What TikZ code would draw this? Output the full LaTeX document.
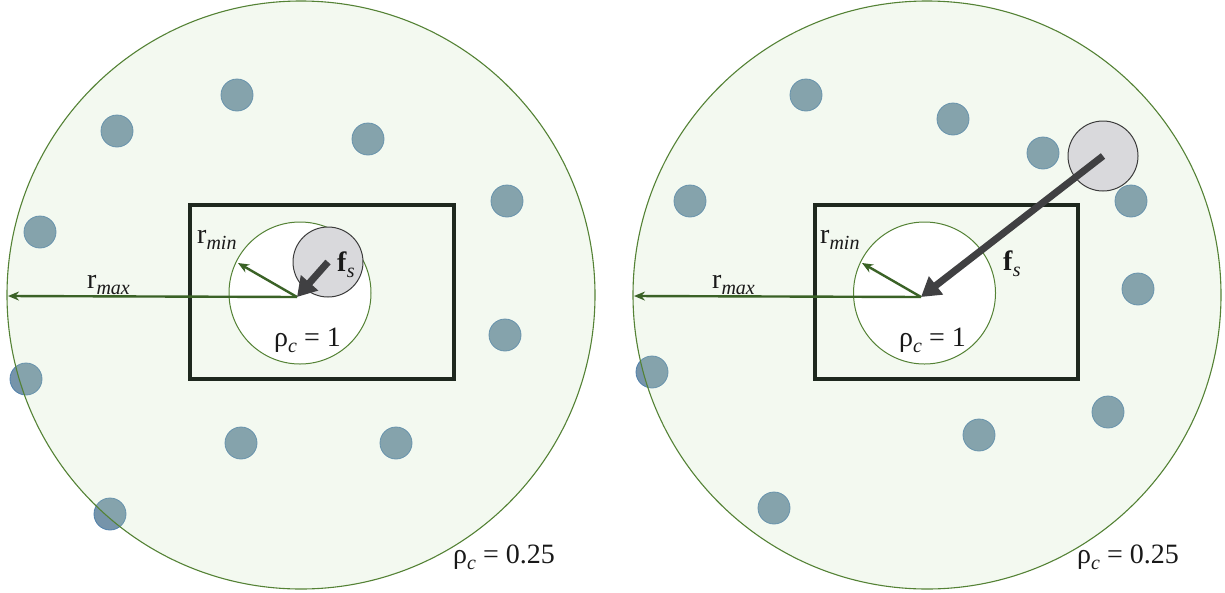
\documentclass[tikz,border=0pt]{standalone}
\usepackage{fontspec}
\setmainfont{Liberation Serif}
\usetikzlibrary{arrows.meta}
\definecolor{bgreen}{RGB}{84,130,53}
\definecolor{lgreen}{RGB}{197,224,180}
\definecolor{dotfill}{RGB}{118,148,170}
\definecolor{dotdraw}{RGB}{80,128,170}
\definecolor{darkarr}{RGB}{64,64,66}
\definecolor{grayfill}{RGB}{217,217,220}
\definecolor{grayline}{RGB}{60,60,60}
\definecolor{rectcol}{RGB}{30,40,30}
\definecolor{arrgreen}{RGB}{58,98,38}
\definecolor{txt}{RGB}{25,25,25}
\tikzset{
  bluedot/.style={circle, fill=dotfill, draw=dotdraw, line width=0.8pt, minimum size=32pt, inner sep=0pt},
  graycirc/.style={circle, fill=grayfill, draw=grayline, line width=1pt, minimum size=70pt, inner sep=0pt},
  bigfill/.style={fill=lgreen, fill opacity=0.2},
  bigline/.style={draw=bgreen, line width=1.1pt},
  innercirc/.style={fill=white, draw=bgreen, line width=1pt},
  framebox/.style={draw=rectcol, line width=3.5pt},
  greenarr/.style={draw=arrgreen, line width=2.4pt, -{Stealth[length=11pt,width=9pt]}},
  thickarr/.style={draw=darkarr, line width=7pt, -{Triangle[length=19pt,width=22pt]}},
  lbl/.style={anchor=base west, inner sep=0pt, text=txt, font=\fontsize{28}{32}\selectfont}
}
\newcommand{\subit}[1]{\raisebox{-6pt}{\fontsize{20}{22}\selectfont\itshape #1}}
\begin{document}
\begin{tikzpicture}[x=1pt,y=-1pt]
\useasboundingbox (0,0) rectangle (1225,592);
% ---------- left panel ----------
\foreach \n/\x/\y in {a/237/95, b/117/131, c/368/139, d/507/201, e/40/232, f/505/335, g/26/379, h/241/443, i/396/443, j/110/514}
  \node[bluedot] (L\n) at (\x,\y) {};
\coordinate (LC) at (301,295);
\fill[bigfill] (LC) circle (294);
\draw[bigline] (LC) circle (294);
\draw[framebox] (190,205) rectangle (454,379);
\coordinate (LI) at (300,293);
\draw[innercirc] (LI) circle (71);
\node[graycirc] (Lg) at (328,262) {};
\coordinate (LO) at (297,297);
\coordinate (Lmax) at (8,296);
\coordinate (Lmin) at (238,263);
\draw[greenarr] (LO) -- (Lmax);
\draw[greenarr] (LO) -- (Lmin);
\draw[thickarr] (Lg.center) -- (LO);
\node[lbl] (Lrmin) at (197,243) {r\subit{min}};
\node[lbl] (Lrmax) at (87,288) {r\subit{max}};
\node[lbl] (Lfs) at (337,271) {\textbf{f}\subit{s}};
\node[lbl] (Lrho1) at (274,346) {ρ\subit{c} = 1};
\node[lbl] (Lrho2) at (453,563) {ρ\subit{c} = 0.25};
% ---------- right panel ----------
\foreach \n/\x/\y in {a/806/95, b/953/119, c/1043/153, d/690/201, e/1131/201, f/1138/289, g/652/372, h/1108/412, i/979/435, j/774/508}
  \node[bluedot] (R\n) at (\x,\y) {};
\coordinate (RC) at (927,295);
\fill[bigfill] (RC) circle (294);
\draw[bigline] (RC) circle (294);
\draw[framebox] (815,205) rectangle (1078,379);
\coordinate (RI) at (924.5,293);
\draw[innercirc] (RI) circle (71);
\node[graycirc] (Rg) at (1103,156) {};
\coordinate (RO) at (921,297);
\coordinate (Rmax) at (634,296);
\coordinate (Rmin) at (862,263);
\draw[greenarr] (RO) -- (Rmax);
\draw[greenarr] (RO) -- (Rmin);
\draw[thickarr] (Rg.center) -- (RO);
\node[lbl] (Rrmin) at (820,243) {r\subit{min}};
\node[lbl] (Rrmax) at (712,288) {r\subit{max}};
\node[lbl] (Rfs) at (1003,270) {\textbf{f}\subit{s}};
\node[lbl] (Rrho1) at (899,346) {ρ\subit{c} = 1};
\node[lbl] (Rrho2) at (1077,563) {ρ\subit{c} = 0.25};
\end{tikzpicture}
\end{document}
